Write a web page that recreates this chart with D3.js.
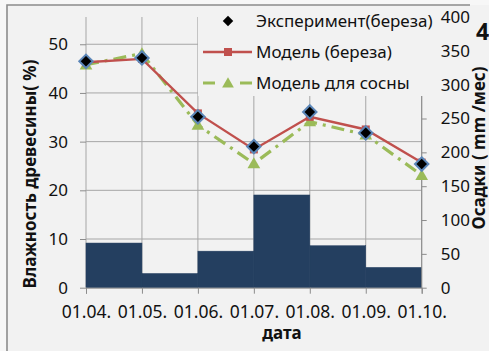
<!DOCTYPE html>
<html>
<head>
<meta charset="utf-8">
<script src="https://cdn.jsdelivr.net/npm/d3@7"></script>
<style>
  html, body { margin: 0; padding: 0; background: #f7f7f7; }
  svg { display: block; }
  text { font-family: "Noto Sans", "Open Sans", sans-serif; fill: #111; }
</style>
</head>
<body>
<svg id="chart" width="489" height="351"></svg>
<script>
// Dates on the time axis (first day of each month)
const dates = ["01.04.", "01.05.", "01.06.", "01.07.", "01.08.", "01.09.", "01.10."];
// Monthly precipitation, mm per month (April .. September)
const rainfall = [66, 21, 54, 137, 62, 30];
// Wood moisture, %
const experimentBirch = [46.5, 47.2, 35.1, 29.0, 36.1, 31.8, 25.4];
const modelBirch = [46.3, 47.0, 35.8, 28.4, 35.1, 32.5, 25.7];
const modelPine = [45.8, 48.1, 33.4, 25.5, 34.1, 31.4, 23.1];
// Axis ticks
const leftTicks = [0, 10, 20, 30, 40, 50];
const rightTicks = [0, 50, 100, 150, 200, 250, 300, 350, 400];
const seriesNames = ["Эксперимент(береза)", "Модель (береза)", "Модель для сосны"];

const svg = d3.select("#chart");
const W = 489, H = 351;
const plot = { left: 86, right: 421.7, top: 17, bottom: 287.7 };

const RED = "#c0504d", GREEN = "#9bbb59", NAVY = "#243f60";

// chart frame
svg.append("rect").attr("x", 7).attr("y", 5).attr("width", W).attr("height", H)
  .attr("fill", "#f2f2f2");
svg.append("path").attr("d", `M7,${H} V5 H470`).attr("fill", "none")
  .attr("stroke", "#8c8c8c").attr("stroke-width", 1.6);

const x = d3.scalePoint().domain(dates).range([plot.left, plot.right]);
const yL = d3.scaleLinear().domain([0, 55.6]).range([plot.bottom, plot.top]);
const yR = d3.scaleLinear().domain([0, 400]).range([plot.bottom, plot.top]);

// gridlines
const grid = svg.append("g").attr("stroke", "#a6a6a6").attr("stroke-width", 1);
leftTicks.filter(d => d > 0).forEach(d => {
  grid.append("line").attr("x1", plot.left).attr("x2", plot.right)
    .attr("y1", yL(d)).attr("y2", yL(d));
});
dates.forEach(d => {
  grid.append("line").attr("x1", x(d)).attr("x2", x(d))
    .attr("y1", plot.top).attr("y2", plot.bottom);
});

// precipitation columns spanning each month
svg.append("g").selectAll("rect").data(rainfall).join("rect")
  .attr("x", (d, i) => x(dates[i]))
  .attr("width", (d, i) => x(dates[i + 1]) - x(dates[i]))
  .attr("y", d => yR(d))
  .attr("height", d => yR(0) - yR(d))
  .attr("fill", NAVY)
  .attr("stroke", NAVY).attr("stroke-width", 0.5);

// axes
const fs = 17;
const axB = svg.append("g").attr("transform", `translate(0,${plot.bottom})`)
  .call(d3.axisBottom(x).tickSize(6).tickPadding(12));
const axL = svg.append("g").attr("transform", `translate(${plot.left},0)`)
  .call(d3.axisLeft(yL).tickValues(leftTicks).tickSize(6).tickPadding(12));
const axR = svg.append("g").attr("transform", `translate(${plot.right},0)`)
  .call(d3.axisRight(yR).tickValues(rightTicks).tickSize(5).tickPadding(14));
[axB, axL, axR].forEach(a => {
  a.select(".domain").attr("stroke", "#8c8c8c");
  a.selectAll(".tick line").attr("stroke", "#8c8c8c");
  a.selectAll(".tick text").attr("font-size", fs).attr("fill", "#111")
    .attr("font-family", '"Noto Sans", sans-serif');
});
axB.selectAll(".tick text").attr("font-size", 17.5);
axL.select(".domain").remove();
axR.select(".domain").attr("d", `M0,${plot.bottom}V${plot.top}`);

// model lines and markers
const line = d3.line().x((d, i) => x(dates[i])).y(d => yL(d));

svg.append("path").datum(modelPine).attr("d", line)
  .attr("fill", "none").attr("stroke", GREEN).attr("stroke-width", 3.2)
  .attr("stroke-dasharray", "13,6,3,6");
const tri = d3.symbol().type(d3.symbolTriangle).size(70);
svg.append("g").selectAll("path").data(modelPine).join("path")
  .attr("d", tri)
  .attr("transform", (d, i) => `translate(${x(dates[i])},${yL(d) + 1})`)
  .attr("fill", GREEN);

svg.append("path").datum(modelBirch).attr("d", line)
  .attr("fill", "none").attr("stroke", RED).attr("stroke-width", 2.4);
svg.append("g").selectAll("rect").data(modelBirch).join("rect")
  .attr("x", (d, i) => x(dates[i]) - 4).attr("y", d => yL(d) - 4)
  .attr("width", 8).attr("height", 8).attr("fill", RED);

const diamond = d3.symbol().type(d3.symbolDiamond2).size(115);
svg.append("g").selectAll("path").data(experimentBirch).join("path")
  .attr("d", diamond)
  .attr("transform", (d, i) => `translate(${x(dates[i])},${yL(d)})`)
  .attr("fill", "#000").attr("stroke", "#5b86b8").attr("stroke-width", 2);

// legend on a panel that hides the grid beneath it
const lg = svg.append("g");
lg.append("rect").attr("x", 198).attr("y", 6).attr("width", 240).attr("height", 90)
  .attr("fill", "#f2f2f2");
const rows = [21, 52, 83];
lg.append("path").attr("d", diamond.size(70)())
  .attr("transform", `translate(228,${rows[0]})`).attr("fill", "#000");
lg.append("line").attr("x1", 203).attr("x2", 252).attr("y1", rows[1]).attr("y2", rows[1])
  .attr("stroke", RED).attr("stroke-width", 2.4);
lg.append("rect").attr("x", 224).attr("y", rows[1] - 4).attr("width", 8).attr("height", 8)
  .attr("fill", RED);
lg.append("line").attr("x1", 203).attr("x2", 252).attr("y1", rows[2]).attr("y2", rows[2])
  .attr("stroke", GREEN).attr("stroke-width", 3.2).attr("stroke-dasharray", "12,25,12");
lg.append("path").attr("d", tri.size(60)())
  .attr("transform", `translate(228,${rows[2] + 1})`).attr("fill", GREEN);
seriesNames.forEach((n, i) => {
  lg.append("text").attr("x", 256).attr("y", rows[i]).attr("dy", "0.35em")
    .attr("font-size", fs).text(n);
});

// axis titles
svg.append("text").attr("transform", "translate(30,174) rotate(-90)")
  .attr("text-anchor", "middle").attr("dy", "0.35em")
  .attr("font-size", 17).attr("font-weight", "bold").text("Влажность древесины( %)");
svg.append("text").attr("transform", "translate(479,148) rotate(-90)")
  .attr("text-anchor", "middle").attr("dy", "0.35em")
  .attr("font-size", 17).attr("font-weight", "bold").text("Осадки ( mm /мес)");
svg.append("text").attr("x", 282).attr("y", 339).attr("text-anchor", "middle")
  .attr("font-size", 17).attr("font-weight", "bold").text("дата");
svg.append("text").attr("x", 476).attr("y", 40)
  .attr("font-size", 23).attr("font-weight", "bold").text("4");
</script>
</body>
</html>
